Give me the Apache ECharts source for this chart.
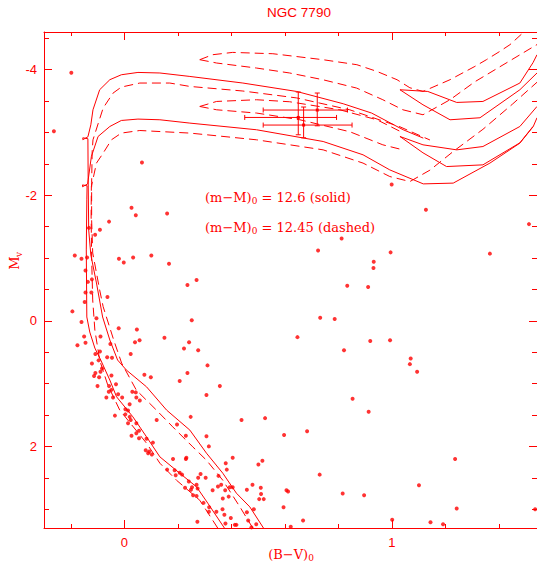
<!DOCTYPE html>
<html><head><meta charset="utf-8">
<script src="https://cdn.jsdelivr.net/npm/echarts@6/dist/echarts.min.js"></script>
<style>html,body{margin:0;padding:0;background:#fff}#c{width:537px;height:565px}</style>
</head><body><div id="c"></div>
<script>
const RED = '#ff0000';
const xRange = [-0.3, 1.542];
const yRange = [-4.6, 3.3];
const xMajorTicks = [0, 1];
const xMinorTicks = [-0.2, 0.2, 0.4, 0.6, 0.8, 1.2, 1.4];
const yMajorTicks = [-4, -2, 0, 2];
const yMinorTicks = [-4.5, -3.5, -3, -2.5, -1.5, -1, -0.5, 0.5, 1, 1.5, 2.5, 3];

// observed stars [(B-V)0, Mv]
const stars = [
[-0.198,-3.95],[-0.263,-3.02],[0.066,-2.52],[0.027,-1.80],[0.043,-1.68],[0.160,-1.71],[-0.057,-1.58],
[-0.091,-1.45],[-0.109,-1.37],[-0.132,-1.48],[-0.185,-1.04],[-0.160,-0.99],[-0.139,-1.01],[-0.020,-0.99],
[-0.002,-0.93],[0.033,-1.01],[0.101,-1.04],[0.167,-0.91],[-0.145,-0.80],[-0.121,-0.66],[-0.136,-0.62],
[0.236,-0.57],[0.270,-0.65],[-0.145,-0.45],[-0.123,-0.45],[-0.063,-0.38],[-0.148,-0.30],[-0.194,-0.15],
[-0.160,0.02],[-0.104,-0.04],[0.252,-0.01],[-0.021,0.12],[0.047,0.14],[-0.150,0.25],[-0.089,0.25],
[-0.175,0.39],[-0.145,0.35],[0.057,0.31],[0.040,0.34],[0.150,0.27],[0.242,0.34],[0.223,0.44],[0.276,0.47],
[-0.052,0.37],[-0.108,0.53],[-0.091,0.49],[-0.096,0.63],[-0.064,0.58],[-0.046,0.59],[0.024,0.53],
[-0.121,0.68],[0.311,0.71],[-0.083,0.76],[-0.108,0.83],[-0.089,0.81],[-0.113,0.88],[-0.094,0.90],
[-0.048,0.87],[0.075,0.86],[0.099,0.90],[0.236,0.83],[0.207,0.96],[-0.100,1.04],[-0.057,1.04],
[-0.031,1.01],[-0.048,1.10],[-0.058,1.13],[0.357,1.04],[-0.023,1.17],[-0.067,1.22],[-0.042,1.22],
[-0.008,1.22],[0.030,1.13],[0.043,1.14],[0.307,1.18],[0.045,1.22],[0.058,1.27],[0.020,1.33],
[0.004,1.41],[0.014,1.43],[0.004,1.49],[-0.035,1.51],[0.020,1.53],[0.024,1.58],[0.014,1.63],
[0.045,1.63],[0.248,1.53],[0.121,1.58],[0.197,1.65],[0.438,1.58],[0.526,1.55],[0.055,1.75],
[0.027,1.83],[0.045,1.79],[0.055,1.87],[0.083,1.88],[0.107,1.94],[0.230,1.83],[0.307,1.84],
[0.597,1.82],[0.683,1.76],[0.316,2.00],[0.080,2.06],[0.093,2.08],[0.089,2.11],[0.103,2.13],
[0.182,2.20],[0.230,2.20],[0.232,2.18],[0.405,2.18],[0.379,2.27],[0.516,2.23],[0.501,2.29],
[0.160,2.37],[0.188,2.38],[0.192,2.46],[0.207,2.42],[0.216,2.45],[0.285,2.44],[0.304,2.50],
[0.276,2.50],[0.383,2.37],[0.352,2.47],[0.241,2.56],[0.270,2.61],[0.253,2.65],[0.249,2.69],
[0.274,2.67],[0.227,2.66],[0.350,2.64],[0.362,2.61],[0.330,2.70],[0.377,2.70],[0.394,2.65],
[0.405,2.65],[0.458,2.69],[0.479,2.61],[0.510,2.66],[0.606,2.70],[0.612,2.72],[0.368,2.83],
[0.390,2.80],[0.511,2.76],[0.504,2.84],[0.521,2.84],[0.257,2.78],[0.270,2.79],[0.296,2.90],
[0.317,2.97],[0.316,3.04],[0.367,3.00],[0.484,3.00],[0.595,2.97],[0.374,3.09],[0.398,3.14],
[0.458,3.05],[0.463,3.18],[0.378,3.23],[0.413,3.25],[0.419,3.25],[0.475,3.29],[0.493,3.24],
[0.273,3.20],[0.622,3.28],[0.668,3.18],[0.344,3.04],[1.144,3.21],[1.191,3.24],[1.242,2.99],
[1.535,3.00],[1.512,-1.54],[0.812,-1.31],[0.724,-1.12],[0.995,-1.09],[1.366,-1.07],[0.932,-0.94],
[0.931,-0.84],[0.833,-0.56],[0.911,-0.54],[0.732,-0.05],[0.786,-0.03],[0.647,0.26],[0.919,0.32],
[0.993,0.31],[0.821,0.47],[1.070,0.60],[1.067,0.69],[1.094,0.81],[0.853,1.24],[0.913,1.45],
[1.236,2.20],[0.730,2.45],[0.816,2.75],[0.896,2.78],[1.101,2.62],[1.001,3.17],[1.127,-1.77],[0.999,-2.17]
];

// isochrones, solid (m-M)0 = 12.6
const solidYoung = [[0.520,3.30],[0.469,2.964],[0.419,2.746],[0.368,2.427],[0.307,2.108],[0.245,1.741],[0.158,1.422],[0.083,1.051],[0.008,0.785],[-0.025,0.625],[-0.054,0.306],[-0.081,-0.061],[-0.104,-0.603],[-0.125,-1.049],[-0.133,-1.448],[-0.135,-2.245],[-0.136,-2.900],[-0.155,-2.915],[-0.155,-2.885],[-0.136,-2.930],[-0.125,-3.122],[-0.117,-3.361],[-0.092,-3.680],[-0.054,-3.840],[-0.011,-3.919],[0.051,-3.956],[0.133,-3.947],[0.245,-3.892],[0.443,-3.787],[0.644,-3.653],[0.818,-3.457],[0.924,-3.309],[1.042,-3.043],[1.117,-2.910]];
const solidOld = [[0.374,3.30],[0.312,2.905],[0.270,2.645],[0.207,2.427],[0.133,2.167],[0.083,1.848],[0.032,1.529],[-0.029,1.210],[-0.054,0.944],[-0.088,0.625],[-0.110,0.434],[-0.129,0.179],[-0.140,-0.061],[-0.142,-1.129],[-0.140,-1.926],[-0.139,-2.150],[-0.156,-2.165],[-0.156,-2.135],[-0.137,-2.180],[-0.123,-2.617],[-0.098,-2.936],[-0.054,-3.095],[-0.011,-3.191],[0.051,-3.213],[0.133,-3.202],[0.245,-3.149],[0.494,-3.043],[0.743,-2.856],[0.892,-2.644],[0.992,-2.404],[1.117,-2.181],[1.229,-2.193],[1.366,-2.512],[1.478,-2.830],[1.528,-3.095],[1.542,-3.234]];
const solidLoop1a = [[1.030,-3.680],[1.134,-3.653],[1.242,-3.478],[1.340,-3.494],[1.478,-3.787],[1.527,-4.111],[1.542,-4.238]];
const solidLoop1b = [[1.030,-3.680],[1.116,-3.441],[1.217,-3.202],[1.329,-3.234],[1.478,-3.680],[1.542,-3.947]];
const solidLoop2a = [[1.030,-2.936],[1.116,-2.803],[1.242,-2.723],[1.340,-2.776],[1.478,-3.095],[1.542,-3.414]];
const solidLoop2b = [[1.030,-2.936],[1.116,-2.676],[1.204,-2.457],[1.340,-2.484],[1.478,-2.835],[1.527,-3.095]];

// isochrones, dashed (m-M)0 = 12.45
const dashedYoung = [[0.480,3.30],[0.432,2.964],[0.368,2.539],[0.307,2.220],[0.256,2.008],[0.181,1.689],[0.120,1.422],[0.045,1.104],[-0.010,0.673],[-0.040,0.30],[-0.079,-0.225],[-0.092,-0.491],[-0.118,-1.081],[-0.122,-1.6],[-0.122,-2.2],[-0.120,-2.7],[-0.117,-2.883],[-0.079,-3.389],[-0.042,-3.627],[-0.011,-3.723],[0.058,-3.787],[0.170,-3.787],[0.245,-3.733],[0.443,-3.66],[0.644,-3.55],[0.843,-3.36],[1.030,-3.09],[1.142,-2.88]];
const dashedOld = [[0.349,3.30],[0.282,2.858],[0.195,2.539],[0.133,2.268],[0.083,1.949],[-0.017,1.422],[-0.062,1.02],[-0.092,0.625],[-0.110,0.147],[-0.118,-0.332],[-0.122,-1.0],[-0.124,-1.7],[-0.123,-2.138],[-0.104,-2.512],[-0.079,-2.671],[-0.048,-2.883],[-0.011,-2.990],[0.058,-3.031],[0.245,-2.990],[0.494,-2.883],[0.743,-2.723],[0.892,-2.512],[0.992,-2.298],[1.067,-2.218],[1.142,-2.40],[1.23,-2.7],[1.34,-3.05],[1.45,-3.45],[1.542,-3.8]];
const dashedLoop1a = [[0.282,-4.159],[0.330,-4.238],[0.405,-4.275],[0.555,-4.254],[0.742,-4.159],[0.869,-4.079],[0.944,-3.972],[1.019,-3.840],[1.067,-3.712],[1.116,-3.653],[1.217,-3.840],[1.310,-4.052],[1.353,-4.159],[1.403,-4.291],[1.441,-4.398],[1.490,-4.589],[1.516,-4.70]];
const dashedLoop1b = [[0.282,-4.159],[0.345,-4.106],[0.494,-4.026],[0.618,-3.947],[0.742,-3.840],[0.868,-3.707],[0.966,-3.521],[1.041,-3.361],[1.116,-3.282],[1.217,-3.521],[1.310,-3.808],[1.542,-4.40]];
const dashedLoop2a = [[0.282,-3.414],[0.345,-3.494],[0.494,-3.521],[0.618,-3.489],[0.805,-3.361],[0.944,-3.202],[1.041,-2.995]];
const dashedLoop2b = [[0.282,-3.414],[0.345,-3.361],[0.494,-3.309],[0.656,-3.202],[0.843,-3.011],[0.966,-2.803],[1.041,-2.723]];

// error crosses: centre, x extent, y extent
const errCentres = [[0.650,-3.239],[0.721,-3.357],[0.670,-3.118]];
const errXLow = [0.450,0.519,0.519];
const errXHigh = [0.793,0.834,0.851];
const errYLow = [-3.644,-3.628,-3.405];
const errYHigh = [-2.963,-3.106,-2.915];

const solidCurves = [solidYoung, solidOld, solidLoop1a, solidLoop1b, solidLoop2a, solidLoop2b];
const dashedCurves = [dashedYoung, dashedOld, dashedLoop1a, dashedLoop1b, dashedLoop2a, dashedLoop2b];

const chart = echarts.init(document.getElementById('c'), null, {renderer: 'svg'});

function xAx(pos, ticks, len, labels, line) {
  return {type: 'value', position: pos, min: xRange[0], max: xRange[1],
    axisLine: {show: line, onZero: false, lineStyle: {color: RED, width: 1}},
    axisTick: {show: true, inside: true, length: len, customValues: ticks, lineStyle: {color: RED, width: 1}},
    axisLabel: labels ? {show: true, customValues: ticks, color: RED, fontSize: 13, fontFamily: 'Liberation Sans', margin: 8} : {show: false},
    splitLine: {show: false}};
}
function yAx(pos, ticks, len, labels, line) {
  return {type: 'value', position: pos, min: yRange[0], max: yRange[1], inverse: true,
    axisLine: {show: line, onZero: false, lineStyle: {color: RED, width: 1}},
    axisTick: {show: true, inside: true, length: len, customValues: ticks, lineStyle: {color: RED, width: 1}},
    axisLabel: labels ? {show: true, customValues: ticks, color: RED, fontSize: 13, fontFamily: 'Liberation Sans', margin: 7} : {show: false},
    splitLine: {show: false}};
}

const series = [];
series.push({type: 'scatter', data: stars, symbol: 'circle', symbolSize: 4, itemStyle: {color: RED}, silent: true, z: 5});
solidCurves.forEach(c => series.push({type: 'line', data: c, showSymbol: false, symbol: 'none', lineStyle: {color: RED, width: 1, type: 'solid'}, silent: true, clip: true, z: 3}));
dashedCurves.forEach(c => series.push({type: 'line', data: c, showSymbol: false, symbol: 'none', lineStyle: {color: RED, width: 1, type: [9, 5]}, silent: true, clip: true, z: 3}));
const errData = errCentres.map((c, i) => [c[0], c[1], errXLow[i], errXHigh[i], errYLow[i], errYHigh[i]]);
series.push({type: 'custom', data: errData, silent: true, z: 4,
  renderItem: function (params, api) {
    const c = api.coord([api.value(0), api.value(1)]);
    const l = api.coord([api.value(2), api.value(1)]);
    const r = api.coord([api.value(3), api.value(1)]);
    const t = api.coord([api.value(0), api.value(4)]);
    const b = api.coord([api.value(0), api.value(5)]);
    const st = {stroke: RED, lineWidth: 1};
    const cap = 2.5;
    return {type: 'group', children: [
      {type: 'line', shape: {x1: l[0], y1: l[1], x2: r[0], y2: r[1]}, style: st},
      {type: 'line', shape: {x1: l[0], y1: l[1] - cap, x2: l[0], y2: l[1] + cap}, style: st},
      {type: 'line', shape: {x1: r[0], y1: r[1] - cap, x2: r[0], y2: r[1] + cap}, style: st},
      {type: 'line', shape: {x1: t[0], y1: t[1], x2: b[0], y2: b[1]}, style: st},
      {type: 'line', shape: {x1: t[0] - cap, y1: t[1], x2: t[0] + cap, y2: t[1]}, style: st},
      {type: 'line', shape: {x1: b[0] - cap, y1: b[1], x2: b[0] + cap, y2: b[1]}, style: st},
      {type: 'rect', shape: {x: c[0] - 1.5, y: c[1] - 1.5, width: 3, height: 3}, style: {fill: RED}}
    ]};
  }});

const MAIN = '13px "DejaVu Serif"';
const SUB = '9px "DejaVu Serif"';
const ctx = document.createElement('canvas').getContext('2d');
function w(t, f) { ctx.font = f; return ctx.measureText(t).width; }
function runs(x, y, parts) {
  const out = []; let cx = x;
  parts.forEach(p => {
    const f = p[1] ? SUB : MAIN;
    out.push({type: 'text', x: cx, y: y + (p[1] ? 4 : 0), silent: true,
      style: {text: p[0], font: f, fill: RED, align: 'left', verticalAlign: 'middle', textAlign: 'left', textVerticalAlign: 'middle'}});
    cx += w(p[0], f);
  });
  return out;
}

const graphics = [];
graphics.push({type: 'text', x: 299, y: 12, silent: true,
  style: {text: 'NGC 7790', font: '13.5px "Liberation Sans"', fill: RED, align: 'center', verticalAlign: 'middle', textAlign: 'center', textVerticalAlign: 'middle'}});
runs(205, 197, [['(m\u2212M)', 0], ['0', 1], [' = 12.6 (solid)', 0]]).forEach(g => graphics.push(g));
runs(205, 227, [['(m\u2212M)', 0], ['0', 1], [' = 12.45 (dashed)', 0]]).forEach(g => graphics.push(g));
const xl = w('(B\u2212V)', MAIN) + w('0', SUB);
runs(291 - xl / 2, 554, [['(B\u2212V)', 0], ['0', 1]]).forEach(g => graphics.push(g));
graphics.push({type: 'group', x: 14.5, y: 263, rotation: Math.PI / 2, silent: true, children: [
  {type: 'text', x: 0, y: 0, style: {text: 'M', font: MAIN, fill: RED, align: 'center', verticalAlign: 'middle', textAlign: 'center', textVerticalAlign: 'middle'}},
  {type: 'text', x: 6, y: 4, style: {text: 'v', font: SUB, fill: RED, align: 'left', verticalAlign: 'middle', textAlign: 'left', textVerticalAlign: 'middle'}}
]});

chart.setOption({
  animation: false,
  backgroundColor: '#fff',
  grid: {left: 44, right: 0, top: 32, bottom: 37, containLabel: false, outerBoundsMode: 'none'},
  xAxis: [xAx('bottom', xMajorTicks, 8, true, true), xAx('bottom', xMinorTicks, 4, false, false),
          xAx('top', xMajorTicks, 8, false, true), xAx('top', xMinorTicks, 4, false, false)],
  yAxis: [yAx('left', yMajorTicks, 8, true, true), yAx('left', yMinorTicks, 5, false, false),
          yAx('right', yMajorTicks, 8, false, true), yAx('right', yMinorTicks, 5, false, false)],
  series: series,
  graphic: graphics
});
</script>
</body></html>
